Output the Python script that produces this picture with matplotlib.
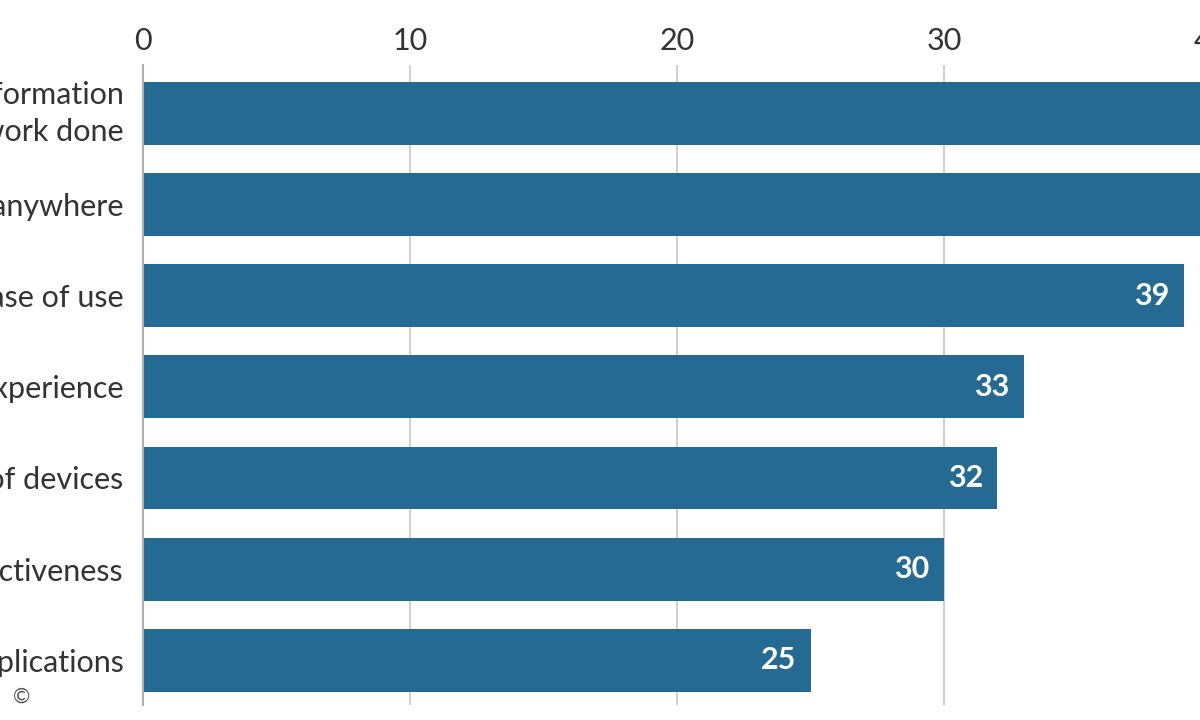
import matplotlib.pyplot as plt

# data (top two bars run past the crop, values estimated)
categories = ["Quick access to information\nto get work done",
              "Work from anywhere",
              "Ease of use",
              "Better user experience",
              "Choice of devices",
              "Cost-effectiveness",
              "Access to applications"]
values = [47, 45, 39, 33, 32, 30, 25]
ticks = [0, 10, 20, 30, 40]

bar_col = "#256a93"
txt_col = "#333333"

plt.rcParams['font.family'] = ['Lato', 'DejaVu Sans']

fig = plt.figure(figsize=(12, 7.2), dpi=100)
# axes runs off the right edge, like the cropped original
ax = fig.add_axes([0.1192, 0.0208, 1.0013, 0.889])

pos = list(range(len(categories)))
ax.barh(pos, values, height=0.69, color=bar_col, zorder=2)

# value labels only where the bar end is inside the picture
for p, v in zip(pos, values):
    if v < 40:
        ax.text(v - 0.55, p, str(v), ha="right", va="center", color="white",
                fontsize=22, fontweight="bold", zorder=3)

ax.set_xlim(0, 45)
ax.set_ylim(6.49, -0.53)
ax.set_xticks(ticks)
ax.set_yticks(pos)
ax.set_yticklabels(categories)
ax.xaxis.tick_top()
ax.tick_params(axis="x", length=0, pad=7, labelsize=22, labelcolor=txt_col)
ax.tick_params(axis="y", length=0, pad=14, labelsize=22, labelcolor=txt_col)
for lab in ax.get_yticklabels():
    lab.set_linespacing(1.4)
    if "\n" in lab.get_text():
        lab.set_va("center")

ax.grid(axis="x", color="#c8c8c8", linewidth=1.2, zorder=0)
ax.grid(axis="y", visible=False)
for s in ["top", "right", "bottom"]:
    ax.spines[s].set_visible(False)
ax.spines["left"].set_color("#b0b0b0")
ax.spines["left"].set_linewidth(1.5)

fig.text(22 / 1200, 1 - 697 / 720, "\u00a9", ha="center", va="center",
         fontsize=15, color="#555555")

fig.savefig("out.png", dpi=100)
